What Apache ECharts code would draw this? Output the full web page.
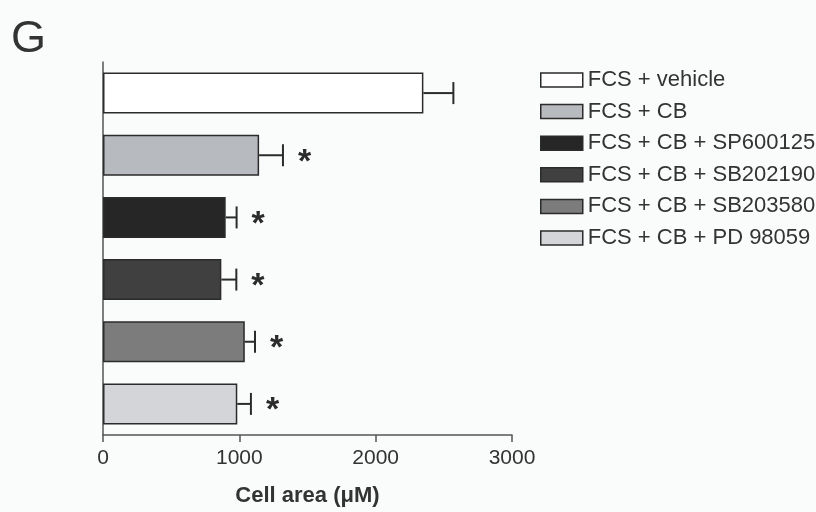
<!DOCTYPE html>
<html><head><meta charset="utf-8">
<script src="https://cdn.jsdelivr.net/npm/echarts@6/dist/echarts.min.js"></script>
<style>html,body{margin:0;padding:0;background:#fafbfb}#c{width:816px;height:512px}</style>
</head><body><div id="c"></div>
<script>
var groups = ['FCS + vehicle','FCS + CB','FCS + CB + SP600125','FCS + CB + SB202190','FCS + CB + SB203580','FCS + CB + PD 98059'];
var means = [2350, 1145, 900, 868, 1040, 985];
var sems = [220, 175, 80, 110, 75, 100];
var signif = ['', '*', '*', '*', '*', '*'];
var xTicks = [0, 1000, 2000, 3000];
var colors = ['#ffffff','#b7babf','#262626','#404040','#7c7c7c','#d3d5d8'];

var series = groups.map(function(g, i){
  var d = groups.map(function(_, j){ return j === i ? means[i] : '-'; });
  return {name: g, type: 'bar', stack: 'all', data: d, barWidth: '66%',
    itemStyle: {color: colors[i], borderColor: '#2b2b2b', borderWidth: 1.5}};
});
series.push({
  type: 'custom', name: 'err', z: 5,
  data: groups.map(function(_, i){ return [i, means[i], sems[i]]; }),
  encode: {x: [1], y: 0},
  renderItem: function(params, api){
    var ci = api.value(0), m = api.value(1), e = api.value(2);
    var p0 = api.coord([m, ci]), p1 = api.coord([m + e, ci]);
    var h = 11;
    var s = params.dataIndex;
    var children = [
      {type:'line', shape:{x1:p0[0], y1:p0[1], x2:p1[0], y2:p1[1]}, style:{stroke:'#2b2b2b', lineWidth:2}},
      {type:'line', shape:{x1:p1[0], y1:p1[1]-h, x2:p1[0], y2:p1[1]+h}, style:{stroke:'#2b2b2b', lineWidth:2}}
    ];
    if (signif[s]) children.push({type:'text', x:p1[0]+15, y:p1[1]+7,
      style:{text:signif[s], fill:'#2b2b2b', font:'bold 34px "Liberation Sans", Arial', textVerticalAlign:'middle'}});
    return {type:'group', children: children};
  }
});

var chart = echarts.init(document.getElementById('c'));
chart.setOption({
  backgroundColor: '#fafbfb',
  animation: false,
  title: {text: 'G', left: 6, top: 12, textStyle: {fontFamily: 'Liberation Sans', fontWeight: 'normal', fontSize: 45, color: '#333'}},
  legend: {
    data: groups, orient: 'vertical', left: 535, top: 64, icon: 'rect',
    itemWidth: 42, itemHeight: 14, itemGap: 9.6,
    itemStyle: {borderColor: '#2b2b2b', borderWidth: 1.5},
    textStyle: {fontFamily: 'Liberation Sans', fontSize: 22, lineHeight: 22, color: '#333', padding: [0,0,0,0]},
    selectedMode: false
  },
  grid: {left: 103, right: 304, top: 62, bottom: 77},
  xAxis: {
    type: 'value', min: xTicks[0], max: xTicks[xTicks.length-1], interval: 1000,
    axisLine: {show: true, lineStyle: {color: '#555', width: 1.5}},
    axisTick: {show: true, length: 7, lineStyle: {color: '#555', width: 1.5}},
    splitLine: {show: false},
    axisLabel: {fontFamily: 'Liberation Sans', fontSize: 21, color: '#333', margin: 13,
      formatter: function(v){ return String(v); }},
    name: 'Cell area (\u03bcM)', nameLocation: 'middle', nameGap: 50,
    nameTextStyle: {fontFamily: 'Liberation Sans', fontSize: 22, fontWeight: 'bold', color: '#333'}
  },
  yAxis: {
    type: 'category', data: groups, inverse: true,
    axisLine: {show: true, lineStyle: {color: '#555', width: 1.5}},
    axisTick: {show: false}, axisLabel: {show: false}
  },
  series: series
});
</script></body></html>
